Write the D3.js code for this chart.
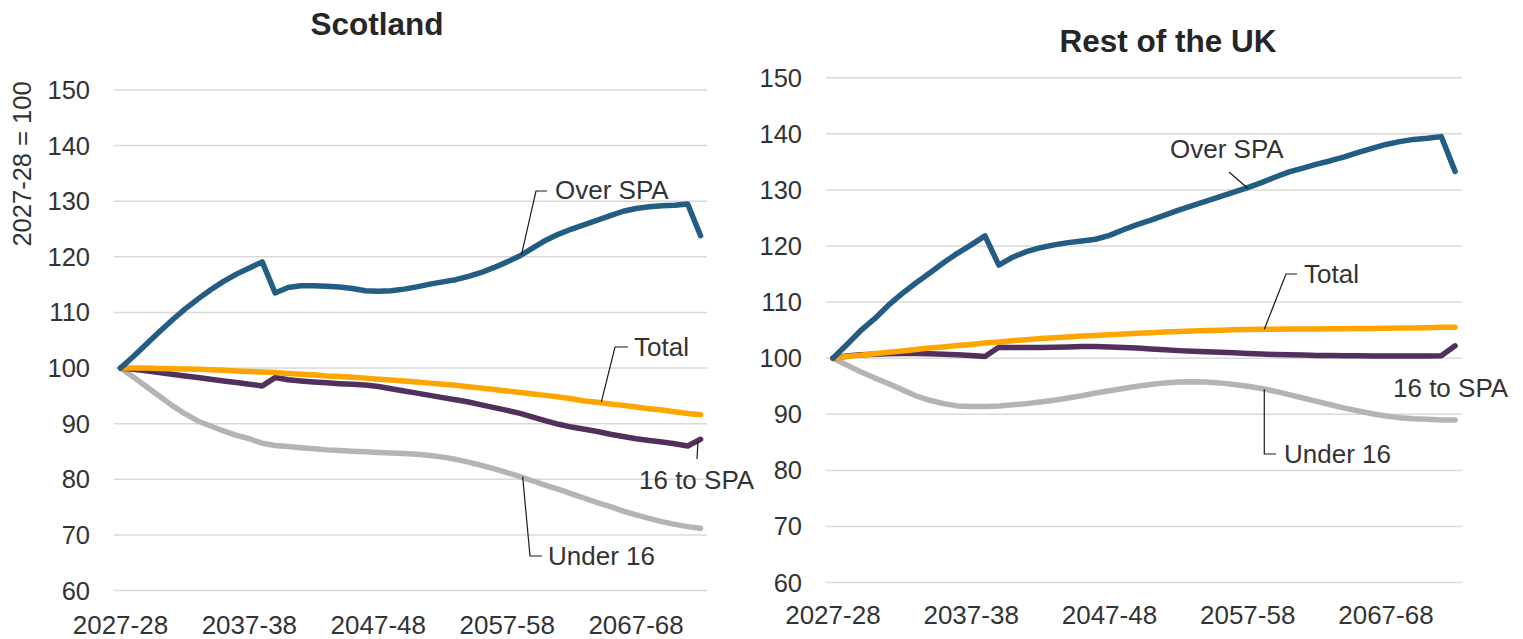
<!DOCTYPE html>
<html><head><meta charset="utf-8">
<script src="https://cdn.jsdelivr.net/npm/d3@7"></script>
<style>
html,body{margin:0;padding:0;background:#fff;}
svg{display:block;font-family:"Liberation Sans",Arial,sans-serif;}
</style></head>
<body>
<svg id="chart" width="1523" height="639"></svg>
<script>
// ---- data ----
const years = d3.range(2027, 2073).map(y => y + "-" + String((y + 1) % 100).padStart(2, "0"));
const tickLabels = ["2027-28", "2037-38", "2047-48", "2057-58", "2067-68"];
const yTicks = [60, 70, 80, 90, 100, 110, 120, 130, 140, 150];
const panelTitles = ["Scotland", "Rest of the UK"];
const seriesNames = ["Under 16", "16 to SPA", "Total", "Over SPA"];

const scoOverSPA = [100,102.1,104.3,106.5,108.6,110.6,112.4,114.1,115.6,116.9,118.0,119.1,113.5,114.5,114.8,114.8,114.7,114.6,114.3,113.9,113.8,113.9,114.2,114.6,115.1,115.5,115.9,116.5,117.2,118.1,119.1,120.2,121.6,123.0,124.1,125.0,125.8,126.6,127.4,128.2,128.7,129.0,129.2,129.3,129.5,123.8];
const scoTotal = [100,100,100,99.95,99.9,99.85,99.8,99.7,99.6,99.5,99.4,99.3,99.2,99.05,98.9,98.8,98.6,98.5,98.35,98.2,98.0,97.85,97.7,97.5,97.3,97.1,96.9,96.65,96.4,96.15,95.9,95.6,95.35,95.1,94.8,94.5,94.1,93.85,93.55,93.3,93.0,92.7,92.45,92.15,91.85,91.6];
const sco16toSPA = [100,99.8,99.5,99.2,98.9,98.6,98.3,98.0,97.7,97.4,97.1,96.8,98.3,97.9,97.7,97.5,97.35,97.2,97.1,96.95,96.7,96.3,95.9,95.5,95.1,94.7,94.3,93.9,93.4,92.9,92.4,91.85,91.2,90.5,89.9,89.4,89.0,88.6,88.1,87.7,87.3,87.0,86.7,86.4,86.0,87.2];
const scoUnder16 = [100,98.4,96.7,95.0,93.3,91.8,90.5,89.6,88.7,87.9,87.3,86.5,86.1,85.9,85.7,85.5,85.3,85.2,85.05,84.95,84.85,84.75,84.65,84.5,84.3,84.0,83.6,83.1,82.5,81.9,81.2,80.5,79.7,78.9,78.2,77.4,76.6,75.8,75.1,74.3,73.6,73.0,72.4,71.9,71.5,71.2];

const rukOverSPA = [100,102.4,104.9,107.0,109.4,111.5,113.4,115.2,117.0,118.7,120.2,121.8,116.6,118.0,119.0,119.7,120.2,120.6,120.9,121.2,121.9,122.9,123.8,124.6,125.5,126.4,127.2,128.0,128.8,129.6,130.4,131.3,132.3,133.2,133.9,134.6,135.2,135.9,136.7,137.4,138.1,138.6,139.0,139.2,139.5,133.3];
const rukTotal = [100,100.3,100.55,100.8,101.05,101.3,101.55,101.8,102.0,102.25,102.45,102.7,102.9,103.1,103.3,103.5,103.65,103.8,103.95,104.05,104.2,104.3,104.45,104.55,104.65,104.75,104.85,104.95,105.0,105.05,105.1,105.15,105.15,105.2,105.2,105.2,105.25,105.25,105.3,105.3,105.35,105.4,105.4,105.45,105.5,105.5];
const ruk16toSPA = [100,100.4,100.6,100.7,100.8,100.85,100.85,100.8,100.7,100.6,100.5,100.3,101.95,101.9,101.9,101.9,101.95,102.0,102.1,102.1,102.0,101.9,101.8,101.65,101.5,101.35,101.25,101.15,101.05,100.95,100.85,100.75,100.65,100.6,100.55,100.5,100.5,100.45,100.45,100.4,100.4,100.4,100.4,100.4,100.45,102.2];
const rukUnder16 = [100,98.8,97.6,96.5,95.5,94.4,93.3,92.5,91.9,91.5,91.4,91.4,91.5,91.7,91.9,92.2,92.5,92.9,93.3,93.8,94.2,94.6,95.0,95.3,95.6,95.75,95.8,95.75,95.6,95.3,95.0,94.6,94.1,93.5,92.9,92.3,91.7,91.1,90.6,90.1,89.7,89.4,89.2,89.1,89.0,89.0];

// ---- styling / layout ----
const colors = {"Under 16": "#B4B4B4", "16 to SPA": "#51305E", "Total": "#FFA500", "Over SPA": "#245D84"};
const textColor = "#333333";

const panels = [
  {
    title: panelTitles[0], titleX: 377, titleY: 35,
    x0: 114, x1: 707, yTop: 90, yBottom: 590.6, labelRight: 90, xLabelY: 634,
    series: {"Under 16": scoUnder16, "16 to SPA": sco16toSPA, "Total": scoTotal, "Over SPA": scoOverSPA},
    yTitle: "2027-28 = 100",
    annotations: [
      {text: "Over SPA", tx: 555, ty: 199, path: (x, y) => [[x(31.1), y(120.3)], [536, 191], [547, 191]]},
      {text: "Total", tx: 634, ty: 356, path: (x, y) => [[x(37.3), y(93.9)], [615, 347], [628, 347]]},
      {text: "16 to SPA", tx: 639, ty: 489, path: (x, y) => [[x(44.8), y(86.9)], [697, 459]]},
      {text: "Under 16", tx: 548, ty: 565, path: (x, y) => [[x(31.2), y(80.5)], [530, 556], [542, 556]]}
    ]
  },
  {
    title: panelTitles[1], titleX: 1168, titleY: 52,
    x0: 826, x1: 1462, yTop: 77.7, yBottom: 582.6, labelRight: 802, xLabelY: 624,
    series: {"Under 16": rukUnder16, "16 to SPA": ruk16toSPA, "Total": rukTotal, "Over SPA": rukOverSPA},
    yTitle: null,
    annotations: [
      {text: "Over SPA", tx: 1170, ty: 158, path: (x, y) => [[x(30.0), y(130.3)], [1229, 172]]},
      {text: "Total", tx: 1304, ty: 283, path: (x, y) => [[x(31.2), y(105.15)], [1286, 274], [1297, 274]]},
      {text: "16 to SPA", tx: 1393, ty: 397, path: null},
      {text: "Under 16", tx: 1284, ty: 463, path: (x, y) => [[x(31.2), y(94.5)], [x(31.2), 454], [1276, 454]]}
    ]
  }
];

const svg = d3.select("#chart");

panels.forEach(p => {
  const xBand = d3.scaleBand().domain(d3.range(years.length)).range([p.x0, p.x1]).padding(0);
  const x = i => xBand(0) + xBand.bandwidth() * (i + 0.5);
  const y = d3.scaleLinear().domain([60, 150]).range([p.yBottom, p.yTop]);
  const g = svg.append("g");

  g.selectAll("line.grid").data(yTicks).join("line")
    .attr("x1", p.x0).attr("x2", p.x1)
    .attr("y1", d => y(d)).attr("y2", d => y(d))
    .attr("stroke", "#D9D9D9").attr("stroke-width", 1.5);

  g.selectAll("text.ytick").data(yTicks).join("text")
    .attr("x", p.labelRight).attr("y", d => y(d))
    .attr("dy", "0.35em").attr("text-anchor", "end")
    .attr("font-size", 25.5).attr("fill", textColor)
    .text(d => d);

  g.selectAll("text.xtick").data(tickLabels).join("text")
    .attr("x", d => x(years.indexOf(d))).attr("y", p.xLabelY)
    .attr("text-anchor", "middle")
    .attr("font-size", 26).attr("fill", textColor)
    .text(d => d);

  g.append("text").attr("x", p.titleX).attr("y", p.titleY)
    .attr("text-anchor", "middle").attr("font-size", 31.5).attr("font-weight", "bold")
    .attr("fill", "#262626").text(p.title);

  if (p.yTitle) {
    g.append("text").attr("transform", `translate(31,164) rotate(-90)`)
      .attr("text-anchor", "middle").attr("font-size", 25.5).attr("fill", textColor)
      .text(p.yTitle);
  }

  const line = d3.line().x((d, i) => x(i)).y(d => y(d));
  seriesNames.forEach(name => {
    g.append("path").datum(p.series[name])
      .attr("d", line)
      .attr("fill", "none")
      .attr("stroke", colors[name])
      .attr("stroke-width", 5.5)
      .attr("stroke-linejoin", "round")
      .attr("stroke-linecap", "round");
  });

  p.annotations.forEach(a => {
    if (a.path) {
      g.append("path").attr("d", d3.line()(a.path(x, y)))
        .attr("fill", "none").attr("stroke", "#1a1a1a").attr("stroke-width", 1.2);
    }
    g.append("text").attr("x", a.tx).attr("y", a.ty)
      .attr("font-size", 26).attr("fill", textColor).text(a.text);
  });
});
</script>
</body></html>
